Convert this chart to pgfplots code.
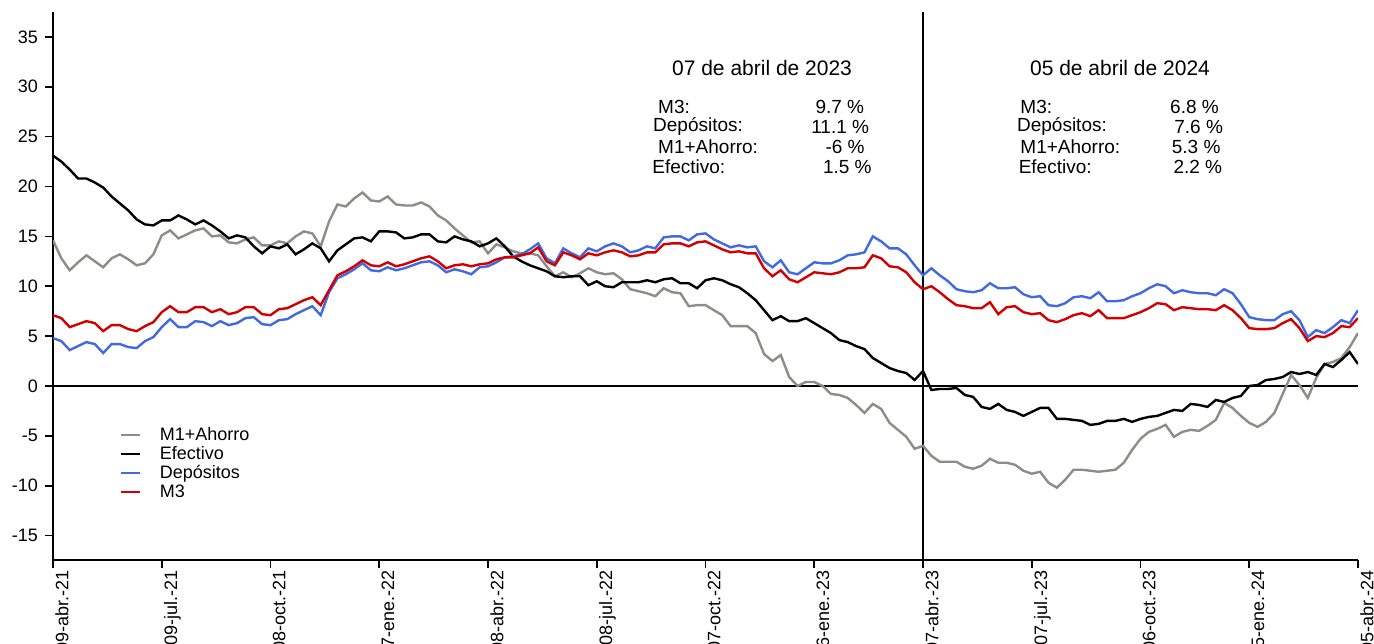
\documentclass[border=0pt]{standalone}
\usepackage{fontspec}
\setmainfont{Liberation Sans}
\usepackage{pgfplots}
\pgfplotsset{compat=1.18}
\usepackage{pgfplotstable}
\definecolor{cgris}{RGB}{140,140,136}
\definecolor{cazul}{RGB}{65,105,225}
\definecolor{crojo}{RGB}{210,0,0}

\pgfplotstableread{
w ef ma dep m3
0 23.1 14.6 4.8 7.1
1 22.5 12.8 4.5 6.8
2 21.7 11.6 3.6 5.9
3 20.8 12.4 4.0 6.2
4 20.8 13.1 4.4 6.5
5 20.4 12.5 4.2 6.3
6 19.9 11.9 3.3 5.5
7 19.0 12.8 4.2 6.1
8 18.3 13.2 4.2 6.1
9 17.6 12.7 3.9 5.7
10 16.7 12.1 3.8 5.5
11 16.2 12.3 4.5 6.0
12 16.1 13.2 4.9 6.4
13 16.6 15.1 5.9 7.4
14 16.6 15.6 6.7 8.0
15 17.1 14.8 5.9 7.4
16 16.7 15.2 5.9 7.4
17 16.2 15.6 6.5 7.9
18 16.6 15.8 6.4 7.9
19 16.1 15.0 6.0 7.4
20 15.5 15.1 6.5 7.7
21 14.8 14.4 6.1 7.2
22 15.1 14.3 6.3 7.4
23 14.9 14.7 6.8 7.9
24 14.0 14.9 6.9 7.9
25 13.3 14.1 6.2 7.2
26 14.0 14.1 6.1 7.1
27 13.8 14.5 6.6 7.7
28 14.2 14.3 6.7 7.8
29 13.2 15.0 7.2 8.2
30 13.7 15.5 7.6 8.6
31 14.3 15.3 8.0 8.9
32 13.8 14.0 7.1 8.1
33 12.5 16.5 9.4 9.6
34 13.6 18.2 10.8 11.1
35 14.2 18.0 11.2 11.5
36 14.8 18.8 11.7 12.0
37 14.9 19.4 12.3 12.6
38 14.5 18.6 11.6 12.1
39 15.5 18.5 11.5 12.0
40 15.5 19.0 11.9 12.4
41 15.4 18.2 11.6 12.0
42 14.8 18.1 11.8 12.2
43 14.9 18.1 12.1 12.5
44 15.2 18.4 12.4 12.8
45 15.2 18.0 12.5 13.0
46 14.5 17.1 12.1 12.5
47 14.4 16.6 11.4 11.8
48 15.0 15.8 11.7 12.1
49 14.7 15.1 11.5 12.2
50 14.5 14.4 11.2 12.0
51 14.0 14.5 11.9 12.2
52 14.3 13.3 12.0 12.3
53 14.8 14.2 12.4 12.7
54 14.0 13.9 12.9 12.9
55 13.0 13.5 13.0 12.9
56 12.5 13.3 13.2 13.1
57 12.1 13.3 13.7 13.3
58 11.8 13.1 14.3 13.9
59 11.5 12.0 12.8 12.5
60 11.0 11.0 12.3 12.1
61 10.9 11.4 13.8 13.4
62 11.0 10.9 13.3 13.1
63 11.0 11.3 12.9 12.7
64 10.1 11.8 13.8 13.3
65 10.5 11.4 13.5 13.1
66 10.0 11.2 14.0 13.4
67 9.9 11.3 14.3 13.6
68 10.4 10.7 14.0 13.4
69 10.4 9.7 13.4 13.0
70 10.4 9.5 13.6 13.1
71 10.6 9.3 14.0 13.4
72 10.4 9.0 13.8 13.4
73 10.7 9.8 14.9 14.2
74 10.8 9.4 15.0 14.3
75 10.3 9.3 15.0 14.3
76 10.3 8.0 14.6 14.0
77 9.8 8.1 15.2 14.4
78 10.6 8.1 15.3 14.5
79 10.8 7.6 14.7 14.1
80 10.6 7.1 14.3 13.7
81 10.2 6.0 13.9 13.4
82 9.9 6.0 14.1 13.5
83 9.3 6.0 13.9 13.3
84 8.6 5.3 14.0 13.3
85 7.6 3.2 12.5 11.8
86 6.6 2.5 11.9 11.0
87 7.0 3.1 12.6 11.6
88 6.5 0.9 11.4 10.7
89 6.5 0.0 11.2 10.4
90 6.8 0.4 11.8 10.9
91 6.3 0.4 12.4 11.4
92 5.8 0.0 12.3 11.3
93 5.3 -0.8 12.3 11.2
94 4.6 -0.9 12.6 11.4
95 4.4 -1.2 13.1 11.8
96 4.0 -1.9 13.2 11.8
97 3.7 -2.7 13.4 11.9
98 2.8 -1.8 15.0 13.1
99 2.3 -2.3 14.5 12.8
100 1.8 -3.7 13.8 12.0
101 1.5 -4.4 13.8 11.9
102 1.3 -5.1 13.2 11.4
103 0.6 -6.3 12.1 10.4
104 1.5 -6.0 11.1 9.7
105 -0.4 -7.0 11.8 10.0
106 -0.3 -7.6 11.1 9.4
107 -0.3 -7.6 10.5 8.7
108 -0.2 -7.6 9.7 8.1
109 -0.9 -8.1 9.5 8.0
110 -1.1 -8.3 9.4 7.8
111 -2.1 -8.0 9.6 7.8
112 -2.3 -7.3 10.3 8.4
113 -1.8 -7.7 9.8 7.2
114 -2.4 -7.7 9.8 7.9
115 -2.6 -7.9 9.9 8.0
116 -3.0 -8.5 9.2 7.4
117 -2.6 -8.8 8.9 7.2
118 -2.2 -8.6 9.0 7.3
119 -2.2 -9.7 8.1 6.6
120 -3.3 -10.2 8.0 6.4
121 -3.3 -9.4 8.3 6.7
122 -3.4 -8.4 8.9 7.1
123 -3.5 -8.4 9.0 7.3
124 -3.9 -8.5 8.8 7.0
125 -3.8 -8.6 9.4 7.6
126 -3.5 -8.5 8.5 6.8
127 -3.5 -8.4 8.5 6.8
128 -3.3 -7.7 8.6 6.8
129 -3.6 -6.4 9.0 7.1
130 -3.3 -5.3 9.3 7.4
131 -3.1 -4.6 9.8 7.8
132 -3.0 -4.3 10.2 8.3
133 -2.7 -3.9 10.0 8.2
134 -2.4 -5.1 9.3 7.6
135 -2.5 -4.6 9.6 7.9
136 -1.8 -4.4 9.4 7.8
137 -1.9 -4.5 9.3 7.7
138 -2.1 -4.0 9.3 7.7
139 -1.4 -3.4 9.1 7.6
140 -1.6 -1.7 9.7 8.1
141 -1.2 -2.2 9.3 7.6
142 -1.0 -3.0 8.2 6.8
143 0.0 -3.7 6.9 5.8
144 0.1 -4.1 6.7 5.7
145 0.6 -3.6 6.6 5.7
146 0.7 -2.7 6.6 5.8
147 0.9 -0.8 7.2 6.3
148 1.4 1.1 7.5 6.7
149 1.2 0.1 6.6 5.8
150 1.4 -1.2 4.9 4.5
151 1.1 0.8 5.6 5.0
152 2.2 2.2 5.3 4.9
153 1.9 2.4 5.9 5.3
154 2.6 2.8 6.6 6.0
155 3.4 3.9 6.3 5.9
156 2.2 5.3 7.6 6.8
}\datos

\begin{document}
\begin{tikzpicture}
\begin{axis}[name=ax, scale only axis, width=652.5pt, height=274pt,
  xmin=0, xmax=156, ymin=-17.45, ymax=37.5,
  axis lines=left, axis line style={-, line width=1.3pt, black},
  xtick={0,13,...,156},
  xticklabels={09-abr.-21,09-jul.-21,08-oct.-21,07-ene.-22,08-abr.-22,08-jul.-22,07-oct.-22,06-ene.-23,07-abr.-23,07-jul.-23,06-oct.-23,05-ene.-24,05-abr.-24},
  ytick={-15,-10,...,35},
  tick align=outside, major tick length=4pt,
  tick style={black, line width=0.8pt},
  ticklabel style={font=\fontsize{9}{10}\selectfont},
  x tick label style={rotate=90, anchor=north east, inner sep=1pt},
  /pgf/number format/assume math mode=true,
  legend style={draw=none, fill=none, at={(axis cs:7.9,-4.0)}, anchor=north west,
    font=\fontsize{9}{10}\selectfont, row sep=0.5pt, column sep=9pt, inner sep=0pt,
    nodes={inner sep=0.5pt, text height=6.5pt, text depth=1.5pt}},
  legend cell align=left,
  legend image code/.code={\draw[#1] (0pt,0pt) -- (9.5pt,0pt);},
]
\addplot[black, line width=1.2pt, forget plot] coordinates {(0,0) (156,0)};
\addplot[black, line width=1pt, forget plot] coordinates {(104,-17.45) (104,37.5)};
\addplot[cgris, line width=1.2pt] table[x=w, y=ma] {\datos};
\addlegendentry{M1+Ahorro}
\addplot[black, line width=1.2pt] table[x=w, y=ef] {\datos};
\addlegendentry{Efectivo}
\addplot[cazul, line width=1.2pt] table[x=w, y=dep] {\datos};
\addlegendentry{Depósitos}
\addplot[crojo, line width=1.2pt] table[x=w, y=m3] {\datos};
\addlegendentry{M3}

\node[font=\fontsize{10.5}{12}\selectfont, inner sep=0] at (axis cs:84.76,31.9) {07 de abril de 2023};
\begin{scope}[every node/.style={font=\fontsize{9.5}{11}\selectfont, inner sep=0, anchor=west}]
\node at (axis cs:72.3,28.0) {M3:};
\node at (axis cs:71.7,26.0) {Depósitos:};
\node at (axis cs:72.3,24.0) {M1+Ahorro:};
\node at (axis cs:71.6,22.0) {Efectivo:};
\node at (axis cs:91.1,28.0) {9.7 \%};
\node at (axis cs:90.6,26.0) {11.1 \%};
\node at (axis cs:92.3,24.0) {-6 \%};
\node at (axis cs:92.0,22.0) {1.5 \%};
\node at (axis cs:115.6,28.0) {M3:};
\node at (axis cs:115.2,26.0) {Depósitos:};
\node at (axis cs:115.6,24.0) {M1+Ahorro:};
\node at (axis cs:115.4,22.0) {Efectivo:};
\node at (axis cs:133.5,28.0) {6.8 \%};
\node at (axis cs:134.0,26.0) {7.6 \%};
\node at (axis cs:133.7,24.0) {5.3 \%};
\node at (axis cs:133.9,22.0) {2.2 \%};
\end{scope}
\node[font=\fontsize{10.5}{12}\selectfont, inner sep=0] at (axis cs:127.55,31.9) {05 de abril de 2024};
\end{axis}
\pgfresetboundingbox
\path[use as bounding box] ([xshift=-26.5pt,yshift=-41.5pt]ax.south west) rectangle ([xshift=8pt,yshift=6pt]ax.north east);
\end{tikzpicture}
\end{document}
